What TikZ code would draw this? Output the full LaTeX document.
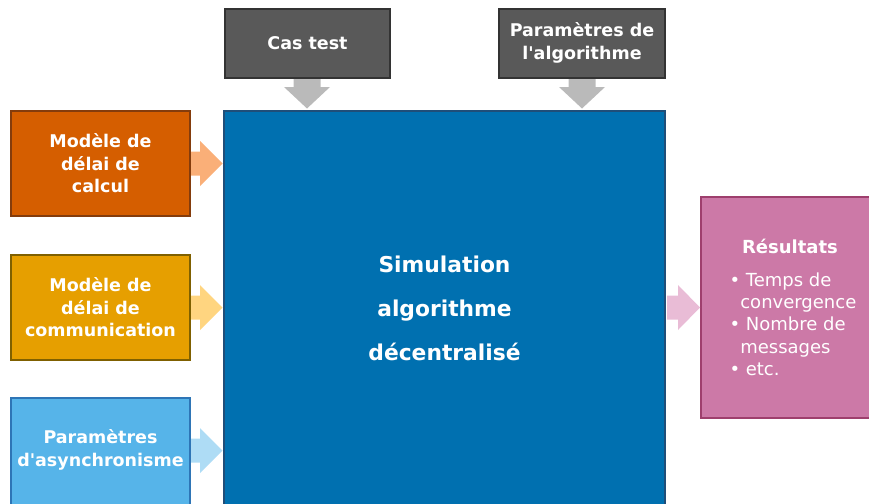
\documentclass[tikz,border=0pt]{standalone}
\usepackage{fontspec}
\newfontfamily\vfont{DejaVu Sans}
\usetikzlibrary{calc}
\definecolor{grayfill}{HTML}{595959}
\definecolor{grayedge}{HTML}{333333}
\definecolor{mainfill}{HTML}{0070B0}
\definecolor{mainedge}{HTML}{1F4E79}
\definecolor{orfill}{HTML}{D55E00}
\definecolor{oredge}{HTML}{843C0C}
\definecolor{yefill}{HTML}{E69F00}
\definecolor{yeedge}{HTML}{7F6000}
\definecolor{blfill}{HTML}{56B4E9}
\definecolor{bledge}{HTML}{2E75B6}
\definecolor{pkfill}{HTML}{CC79A7}
\definecolor{pkedge}{HTML}{9E3F6D}
\definecolor{arrgray}{HTML}{BABABA}
\definecolor{arror}{HTML}{FAAF78}
\definecolor{arrye}{HTML}{FFD580}
\definecolor{arrbl}{HTML}{AEDCF5}
\definecolor{arrpk}{HTML}{E9BCD6}
\tikzset{
  boxtext/.style={text=white, font=\vfont\bfseries\fontsize{17.5}{22.5}\selectfont, align=center},
  blk/.style={line width=2pt},
}
\begin{document}
\begin{tikzpicture}[x=1pt,y=-1pt]
\useasboundingbox (0,0) rectangle (869,503);
% boxes
\draw[blk, fill=grayfill, draw=grayedge] (225,9) rectangle (390,78);
\node[boxtext] (cas) at (307.5,43.5) {Cas test};
\draw[blk, fill=grayfill, draw=grayedge] (499,9) rectangle (665,78);
\node[boxtext] (param) at (582,43) {Paramètres de\\l'algorithme};
\draw[line width=2.5pt, fill=mainfill, draw=mainedge] (224,111) rectangle (665,507);
\node[text=white, font=\vfont\bfseries\fontsize{21.8}{44}\selectfont, align=center] (sim) at (444.5,308) {Simulation\\algorithme\\décentralisé};
\draw[blk, fill=orfill, draw=oredge] (11,111) rectangle (190,216);
\node[boxtext] (calc) at (100.5,163.5) {Modèle de\\délai de\\calcul};
\draw[blk, fill=yefill, draw=yeedge] (11,255) rectangle (190,360);
\node[boxtext] (comm) at (100.5,307.5) {Modèle de\\délai de\\communication};
\draw[blk, fill=blfill, draw=bledge] (11,398) rectangle (190,507);
\node[boxtext] (async) at (100.5,450) {Paramètres\\d'asynchronisme};
\draw[blk, fill=pkfill, draw=pkedge] (701,197) rectangle (873,418);
\node[text=white, font=\vfont\bfseries\fontsize{18}{22}\selectfont] (res) at (790,246) {Résultats};
\node[text=white, font=\vfont\fontsize{18}{22.3}\selectfont, align=left, anchor=north west] (list) at (726,269)
  {• Temps de\\\hspace{0.6em}convergence\\• Nombre de\\\hspace{0.6em}messages\\• etc.};
% down arrows
\foreach \cx in {307, 582}{
  \fill[arrgray] (\cx-13.5,79) -- (\cx+13.5,79) -- (\cx+13.5,87) -- (\cx+23,87) -- (\cx,108.5) -- (\cx-23,87) -- (\cx-13.5,87) -- cycle;
}
% right arrows
\foreach \cy/\col in {163.5/arror, 307.5/arrye, 450.5/arrbl}{
  \fill[\col] (191,\cy-12) -- (200,\cy-12) -- (200,\cy-22.5) -- (222.5,\cy) -- (200,\cy+22.5) -- (200,\cy+12) -- (191,\cy+12) -- cycle;
}
\fill[arrpk] (667,295.5) -- (678,295.5) -- (678,285) -- (700,307.5) -- (678,330) -- (678,319.5) -- (667,319.5) -- cycle;
\end{tikzpicture}
\end{document}
